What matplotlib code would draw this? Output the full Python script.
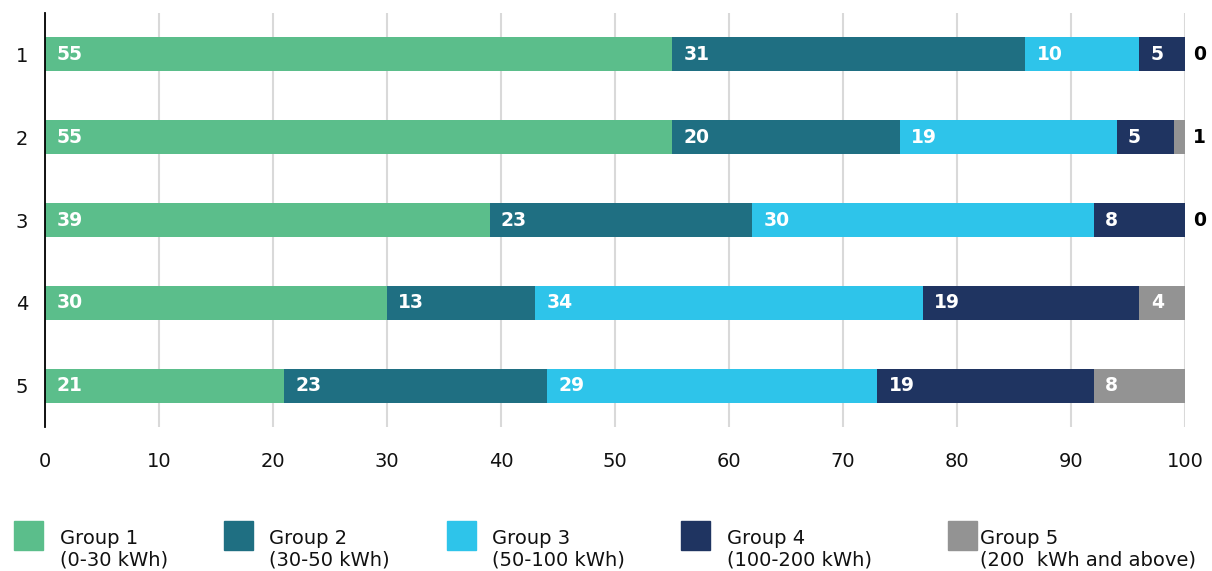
import matplotlib
matplotlib.use("Agg")
import matplotlib.pyplot as plt
from matplotlib.patches import Rectangle

plt.rcParams['font.family'] = ['DejaVu Sans']

categories = ["1", "2", "3", "4", "5"]
groups = ["Group 1\n(0-30 kWh)", "Group 2\n(30-50 kWh)", "Group 3\n(50-100 kWh)",
          "Group 4\n(100-200 kWh)", "Group 5\n(200  kWh and above)"]
colors = ["#5BBE8B", "#1F6F82", "#2EC4EA", "#1F3461", "#939393"]

# drawn segment widths (per category, per group)
g1 = [55, 55, 39, 30, 21]
g2 = [31, 20, 23, 13, 23]
g3 = [10, 19, 30, 34, 29]
g4 = [4, 5, 8, 19, 19]
g5 = [0, 1, 0, 4, 8]
# printed labels
l1 = [55, 55, 39, 30, 21]
l2 = [31, 20, 23, 13, 23]
l3 = [10, 19, 30, 34, 29]
l4 = [5, 5, 8, 19, 19]
l5 = [0, 1, 0, 4, 8]

series = [g1, g2, g3, g4, g5]
labels = [l1, l2, l3, l4, l5]
xticks = [0, 10, 20, 30, 40, 50, 60, 70, 80, 90, 100]

fig = plt.figure(figsize=(12.12, 5.71), dpi=100)
W, H = 1212, 571
ax = fig.add_axes([45 / W, 1 - 427 / H, (1185 - 45) / W, (427 - 13) / H])

y = list(range(len(categories)))
left = [0] * len(categories)
for gi, (vals, labs) in enumerate(zip(series, labels)):
    ax.barh(y, vals, left=left, height=0.41, color=colors[gi], zorder=3)
    for i in range(len(categories)):
        if gi == 4 and vals[i] <= 2:
            ax.text(100.7, y[i], str(labs[i]), ha='left', va='center',
                    fontsize=13.5, fontweight='bold', color='black', zorder=4)
        elif vals[i] > 0:
            ax.text(left[i] + 1.0, y[i], str(labs[i]), ha='left', va='center',
                    fontsize=13.5, fontweight='bold', color='white', zorder=4)
    left = [a + b for a, b in zip(left, vals)]

ax.set_xlim(0, 100)
ax.set_ylim(4.5, -0.5)
ax.set_yticks(y)
ax.set_yticklabels(categories)
ax.set_xticks(xticks)
ax.set_xticklabels([str(t) for t in xticks])
ax.tick_params(axis='both', length=0, labelsize=14, colors='#111111')
ax.tick_params(axis='x', pad=18)
ax.tick_params(axis='y', pad=12)
ax.grid(axis='x', color='#D9D9D9', linewidth=1.5, zorder=0)
ax.set_axisbelow(True)
for s in ['top', 'right', 'bottom']:
    ax.spines[s].set_visible(False)
ax.spines['left'].set_color('black')
ax.spines['left'].set_linewidth(1.3)
ax.spines['left'].set_zorder(5)

# legend
sq_x = [14, 224, 447, 681, 948]
tx_x = [60, 269, 492, 727, 980]
for gi in range(5):
    fig.patches.append(Rectangle((sq_x[gi] / W, 1 - 550 / H), 29 / W, 29 / H,
                                 transform=fig.transFigure, color=colors[gi]))
    fig.text(tx_x[gi] / W, 1 - 549 / H, groups[gi], ha='left', va='center',
             fontsize=14, color='#111111', linespacing=1.2)

fig.savefig("out.png", dpi=100)
